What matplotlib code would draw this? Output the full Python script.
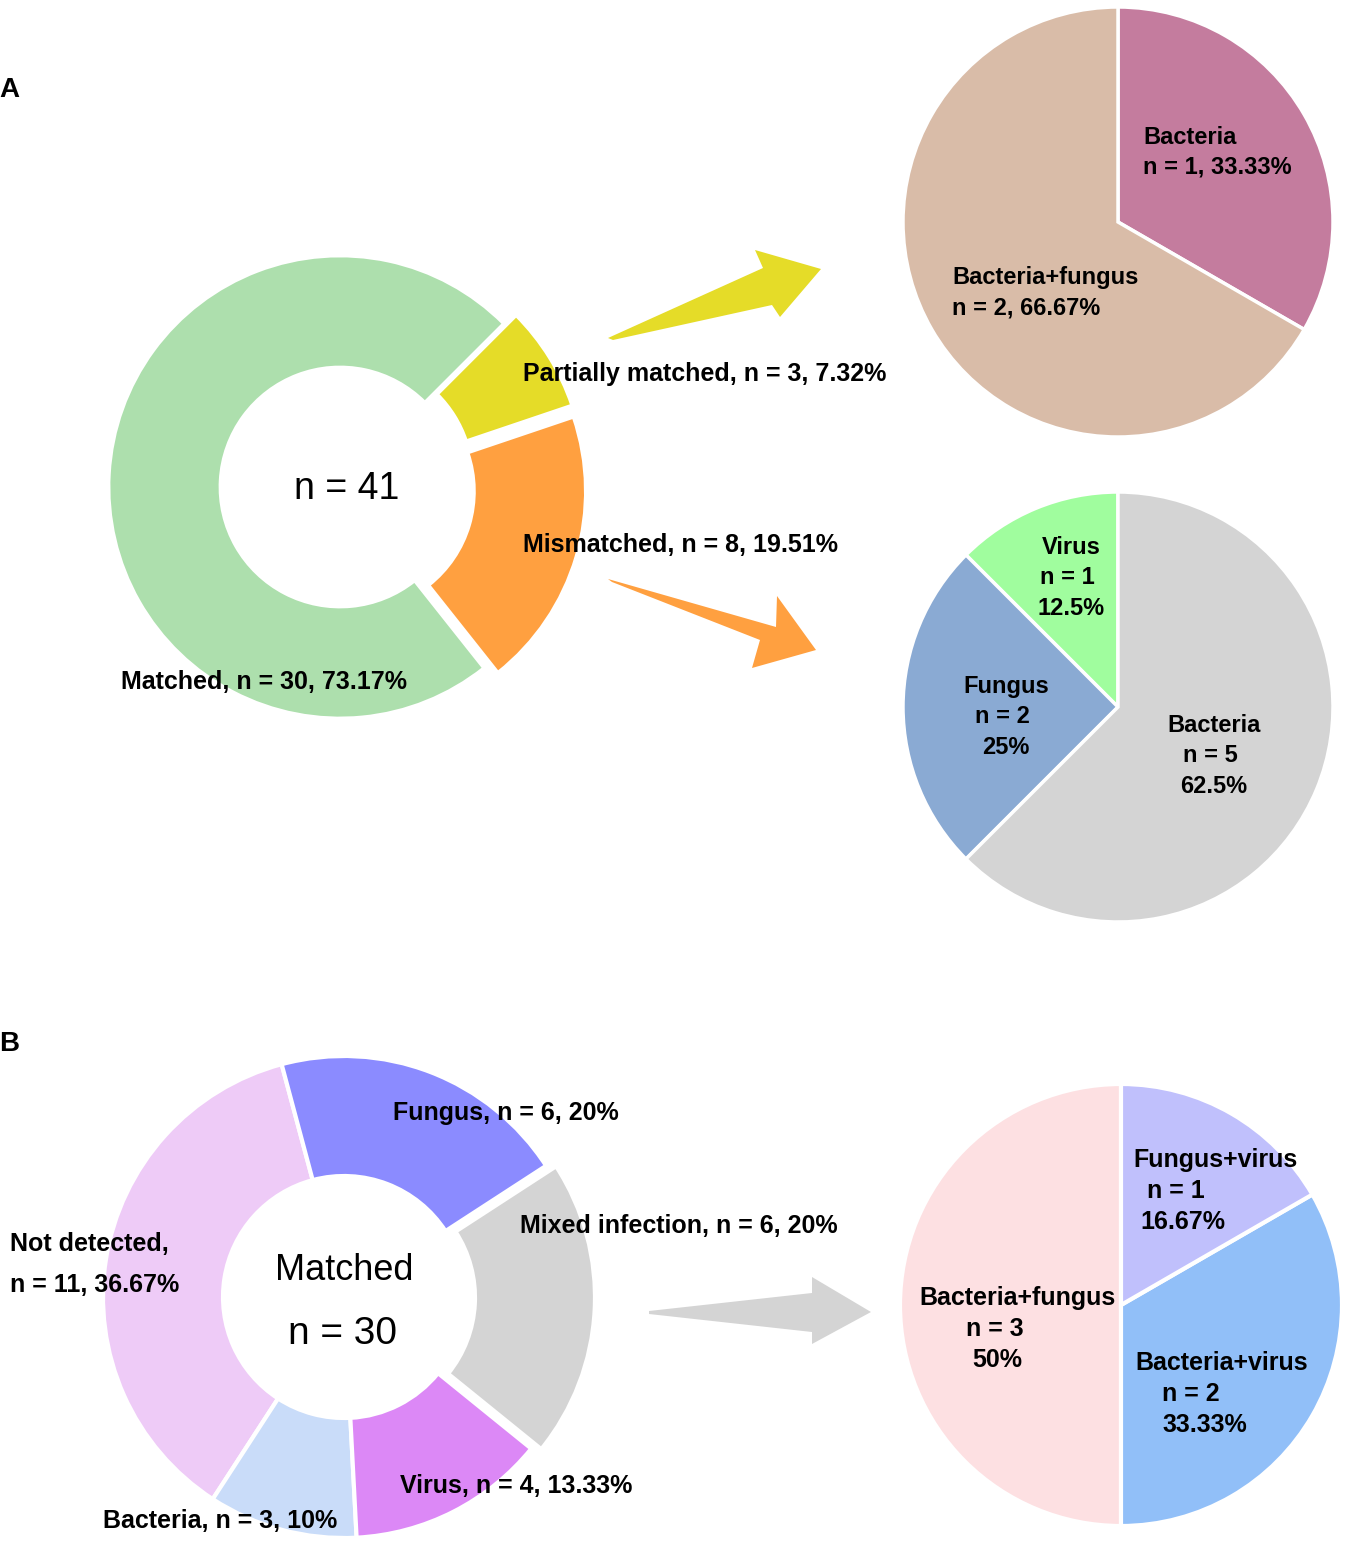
import matplotlib
matplotlib.use('Agg')
import matplotlib.pyplot as plt
from matplotlib import font_manager
from matplotlib.patches import Polygon

W, H = 1350, 1541

# panel A: overall concordance
a_labels = ['Matched', 'Mismatched', 'Partially matched']
a_counts = [30, 8, 3]
a_colors = ['#addfad', '#ffa040', '#e5dc28']

# panel A: partially matched breakdown
pm_labels = ['Bacteria', 'Bacteria+fungus']
pm_counts = [1, 2]
pm_colors = ['#c47c9e', '#d9bca8']

# panel A: mismatched breakdown
mm_labels = ['Virus', 'Fungus', 'Bacteria']
mm_counts = [1, 2, 5]
mm_colors = ['#a0fd9e', '#8aaad3', '#d4d4d4']

# panel B: matched cases
b_labels = ['Not detected', 'Bacteria', 'Virus', 'Mixed infection', 'Fungus']
b_counts = [11, 3, 4, 6, 6]
b_colors = ['#eecbf7', '#c9dcf9', '#dc88f6', '#d4d4d4', '#8b8bff']

# panel B: mixed infection breakdown
mix_labels = ['Bacteria+fungus', 'Bacteria+virus', 'Fungus+virus']
mix_counts = [3, 2, 1]
mix_colors = ['#fde0e2', '#91bff8', '#c0c0fc']


def pct(counts, i):
    return '%g%%' % round(100.0 * counts[i] / sum(counts), 2)


names = {f.name for f in font_manager.fontManager.ttflist}
NARROW_OK = 'Liberation Sans Narrow' in names
NARROW = 'Liberation Sans Narrow' if NARROW_OK else 'Liberation Sans'
WIDE = 'Liberation Sans'

# label sizes (narrow font is taller for the same width)
nsz = 22 if NARROW_OK else 18
big = 1.2 if NARROW_OK else 1.0

fig = plt.figure(figsize=(W / 100, H / 100), dpi=100)
ax = fig.add_axes([0, 0, 1, 1])


def pie(counts, colors, cx, cy, r, start, ccw=True, explode=None, width=None, lw=2.5):
    wp = dict(edgecolor='white', linewidth=lw)
    if width:
        wp['width'] = width
    ax.pie(counts, colors=colors, center=(cx, H - cy), radius=r,
           startangle=start, counterclock=ccw, explode=explode,
           wedgeprops=wp, frame=True)


def txt(x, y, s, size, family=WIDE, weight='bold', ha='left'):
    ax.text(x, H - y, s, fontsize=size, family=family, weight=weight,
            ha=ha, va='center', color='black')


def arrow(pts, color):
    ax.add_patch(Polygon([(x, H - y) for x, y in pts], closed=True,
                         facecolor=color, edgecolor='none'))


# ---- panel A ----
pie(a_counts, a_colors, 340, 487, 231, 45, explode=[0, 15, 15], width=111, lw=2)
pie(pm_counts, pm_colors, 1118, 222, 215, 90, ccw=False)
pie(mm_counts, mm_colors, 1118, 707, 215, 90)

arrow([(608, 338), (763, 268), (755, 250), (821, 269), (780, 317), (772, 305), (613, 340)],
      a_colors[2])
arrow([(608, 579), (776, 627), (777, 596), (816, 650), (752, 668), (760, 640), (612, 582)],
      a_colors[1])

txt(-1, 90, 'A', 20)
txt(347, 489, 'n = %d' % sum(a_counts), 27 * big, family=NARROW, weight='normal', ha='center')
txt(523, 374, '%s, n = %d, %s' % (a_labels[2], a_counts[2], pct(a_counts, 2)), nsz, family=NARROW)
txt(523, 545, '%s, n = %d, %s' % (a_labels[1], a_counts[1], pct(a_counts, 1)), nsz, family=NARROW)
txt(121, 682, '%s, n = %d, %s' % (a_labels[0], a_counts[0], pct(a_counts, 0)), nsz, family=NARROW)

txt(1143, 137, pm_labels[0], 17)
txt(1143, 167, 'n = %d, %s' % (pm_counts[0], pct(pm_counts, 0)), 17)
txt(952, 277, pm_labels[1], 17)
txt(952, 308, 'n = %d, %s' % (pm_counts[1], pct(pm_counts, 1)), 17)

for i, (x, y) in enumerate([(1071, 547), (1006, 686), (1214, 725)]):
    txt(x, y, mm_labels[i], 17, ha='center')
    txt(x - 4, y + 30, 'n = %d' % mm_counts[i], 17, ha='center')
    txt(x, y + 61, pct(mm_counts, i), 17, ha='center')

# ---- panel B ----
pie(b_counts, b_colors, 344, 1297, 241, 105, explode=[0, 0, 0, 10, 0], width=120, lw=3)
pie(mix_counts, mix_colors, 1121, 1305, 221, 90, lw=3)

arrow([(649, 1311), (812, 1293), (812, 1277), (871, 1312), (812, 1344), (812, 1332), (649, 1314)],
      '#d4d4d4')

txt(-1, 1044, 'B', 20)
txt(344, 1270, 'Matched', 26 * big, family=NARROW, weight='normal', ha='center')
txt(343, 1334, 'n = %d' % sum(b_counts), 28 * big, family=NARROW, weight='normal', ha='center')

txt(393, 1113, '%s, n = %d, %s' % (b_labels[4], b_counts[4], pct(b_counts, 4)), nsz, family=NARROW)
txt(520, 1226, '%s, n = %d, %s' % (b_labels[3], b_counts[3], pct(b_counts, 3)), nsz, family=NARROW)
txt(10, 1244, b_labels[0] + ',', nsz, family=NARROW)
txt(10, 1285, 'n = %d, %s' % (b_counts[0], pct(b_counts, 0)), nsz, family=NARROW)
txt(400, 1486, '%s, n = %d, %s' % (b_labels[2], b_counts[2], pct(b_counts, 2)), nsz, family=NARROW)
txt(103, 1521, '%s, n = %d, %s' % (b_labels[1], b_counts[1], pct(b_counts, 1)), nsz, family=NARROW)

mix_pos = [(919, 1298, 966, 972), (1135, 1363, 1162, 1162), (1133, 1160, 1147, 1140)]
for i, (x, y, xn, xp) in enumerate(mix_pos):
    txt(x, y, mix_labels[i], 18)
    txt(xn, y + 31, 'n = %d' % mix_counts[i], 18)
    txt(xp, y + 62, pct(mix_counts, i), 18)

ax.set_xlim(0, W)
ax.set_ylim(0, H)
ax.axis('off')
fig.savefig('out.png', dpi=100, facecolor='white')
